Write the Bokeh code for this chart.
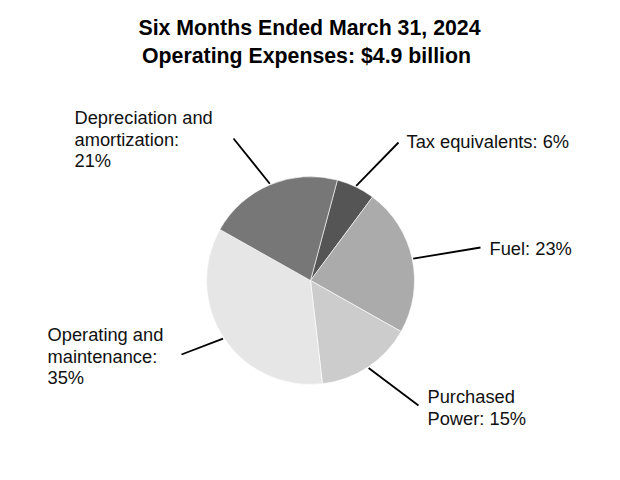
import numpy as np
from bokeh.plotting import figure
from bokeh.models import Range1d, ColumnDataSource
from bokeh.core.properties import value
from bokeh.embed import file_html
from bokeh.resources import INLINE

# ---- data ----
title_lines = ["Six Months Ended March 31, 2024", "Operating Expenses: $4.9 billion"]
categories = ["Tax equivalents", "Fuel", "Purchased Power", "Operating and maintenance", "Depreciation and amortization"]
shares = [6, 23, 15, 35, 21]
label_lines = [
    ["Tax equivalents: 6%"],
    ["Fuel: 23%"],
    ["Purchased", "Power: 15%"],
    ["Operating and", "maintenance:", "35%"],
    ["Depreciation and", "amortization:", "21%"],
]
colors = ["#555555", "#ababab", "#cccccc", "#e6e6e6", "#777777"]

# ---- layout (screen pixels) ----
W, H = 604, 464
def sx(x): return x
def sy(y): return H - y

cx, cy, r = sx(310), sy(280), 104
start_deg = 75.0
text_shift = 8
# label anchor (left x, first baseline y) and leader end point, in screen px
label_pos = [(406, 149), (489, 256), (427, 404), (47, 342), (74, 125)]
leader_end = [(398, 142), (480, 247), (418, 405), (181, 354), (233, 138)]
line_h = 21.7

p = figure(width=W, height=H, output_backend="svg", toolbar_location=None,
           x_range=Range1d(0, W), y_range=Range1d(0, H), min_border=0)
p.axis.visible = False
p.grid.visible = False
p.outline_line_color = None
p.background_fill_color = "white"
p.border_fill_color = "white"

vals = np.array(shares, dtype=float)
frac = vals / vals.sum()
cum = np.concatenate([[0], np.cumsum(frac)])
starts = np.deg2rad(start_deg - cum[:-1] * 360)
ends = np.deg2rad(start_deg - cum[1:] * 360)
mids = (starts + ends) / 2

src = ColumnDataSource(dict(start=starts, end=ends, color=colors, cat=categories))
p.wedge(x=cx, y=cy, radius=r, start_angle="start", end_angle="end", direction="clock",
        fill_color="color", line_color="white", line_width=0.6, source=src)

# leader lines
xs, ys = [], []
for m, (ex, ey) in zip(mids, leader_end):
    xs.append([cx + (r + 1) * np.cos(m), sx(ex)])
    ys.append([cy + (r + 1) * np.sin(m), sy(ey)])
p.multi_line(xs=xs, ys=ys, line_color="black", line_width=1.8)

# labels
tx, ty, tt = [], [], []
for lines, (lx, ly) in zip(label_lines, label_pos):
    for i, t in enumerate(lines):
        tx.append(sx(lx)); ty.append(sy(ly + i * line_h - text_shift)); tt.append(t)
p.text(x=tx, y=ty, text=tt, text_font=value("Liberation Sans"), text_font_size="18.3px",
       text_align="left", text_baseline="alphabetic", text_color="#111111")

# title
p.text(x=[sx(309), sx(306)], y=[sy(35 - text_shift), sy(63 - text_shift)], text=title_lines,
       text_font=value("Liberation Sans"), text_font_size="21.3px", text_font_style="bold",
       text_align="center", text_baseline="alphabetic", text_color="black")

open("out.html", "w").write(file_html(p, INLINE))
